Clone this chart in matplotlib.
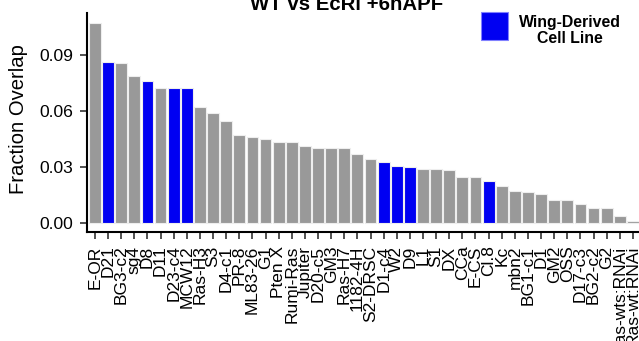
import matplotlib
matplotlib.use("Agg")
import matplotlib.pyplot as plt
from matplotlib.patches import Rectangle

categories = ["E-OR", "D21", "BG3-c2", "sg4", "D8", "D11", "D23-c4", "MCW12", "Ras-H3", "S3",
              "D4-c1", "PR-8", "ML83-26", "G1", "Pten X", "Rumi-Ras", "Jupiter", "D20-c5", "GM3",
              "Ras-H7", "1182-4H", "S2-DRSC", "D1-c4", "W2", "D9", "L1", "S1", "DX", "CCa", "E-CS",
              "Cl.8", "Kc", "mbn2", "BG1-c1", "D1", "GM2", "OSS", "D17-c3", "BG2-c2", "G2",
              "Ras-wts:RNAi", "Ras-wt:RNAi"]
overlap = [0.1075, 0.0864, 0.0857, 0.0787, 0.0762, 0.0726, 0.0726, 0.0726, 0.0624, 0.0588,
           0.0547, 0.0471, 0.0461, 0.0452, 0.0435, 0.0435, 0.0411, 0.0402, 0.0402,
           0.0402, 0.0368, 0.0342, 0.0325, 0.0306, 0.0299, 0.0290, 0.0290, 0.0282, 0.0247, 0.0247,
           0.0223, 0.0196, 0.0172, 0.0163, 0.0153, 0.0120, 0.0120, 0.0102, 0.0077, 0.0077,
           0.0034, 0.0009]
wing_derived = ["D21", "D8", "D23-c4", "MCW12", "D1-c4", "W2", "D9", "Cl.8"]
yticks = [0.00, 0.03, 0.06, 0.09]

W, H = 639, 341
plt.rcParams['font.family'] = ['Liberation Sans', 'DejaVu Sans']
fig = plt.figure(figsize=(W / 100, H / 100), dpi=100)

left_px, right_px = 87.1, 640.8
top_px, bottom_px = 12.7, 231.7
ax = fig.add_axes([left_px / W, 1 - bottom_px / H, (right_px - left_px) / W, (bottom_px - top_px) / H])

colors = ["#0000F2" if c in wing_derived else "#999999" for c in categories]
x = list(range(len(categories)))
ax.bar(x, overlap, width=0.9, color=colors, edgecolor="#eeeeee", linewidth=0.8)

ax.set_xlim(-0.6, len(categories) - 1 + 0.6)
ax.set_ylim(-0.0049, 0.1129)
ax.set_yticks(yticks)
ax.set_yticklabels([f"{v:.2f}" for v in yticks], fontsize=12.6, color="black")
ax.set_xticks(x)
ax.set_xticklabels(categories, rotation=90, fontsize=12.5, color="black")

for s in ["top", "right"]:
    ax.spines[s].set_visible(False)
for s in ["left", "bottom"]:
    ax.spines[s].set_linewidth(1.5)
    ax.spines[s].set_color("black")
ax.tick_params(axis="both", length=5, width=1.2, color="#333333", pad=5)

fig.text(23.5 / W, 1 - 119 / H, "Fraction Overlap", rotation=90, rotation_mode="anchor",
         ha="center", va="baseline", fontsize=14.6, color="black")
fig.text(347 / W, 1 - 10 / H, "WT vs EcRi +6hAPF", ha="center", va="baseline",
         fontsize=14.7, fontweight="bold")

fig.patches.append(Rectangle((480.7 / W, 1 - 40 / H), 27.6 / W, 27.7 / H,
                             transform=fig.transFigure, facecolor="#0000F2",
                             edgecolor="#8080ff", linewidth=0.8))
fig.text(569.5 / W, 1 - 15 / H, "Wing-Derived\nCell Line", ha="center", va="top",
         multialignment="center", fontsize=11.4, fontweight="bold", linespacing=1.05)

fig.savefig("out.png", dpi=100)
